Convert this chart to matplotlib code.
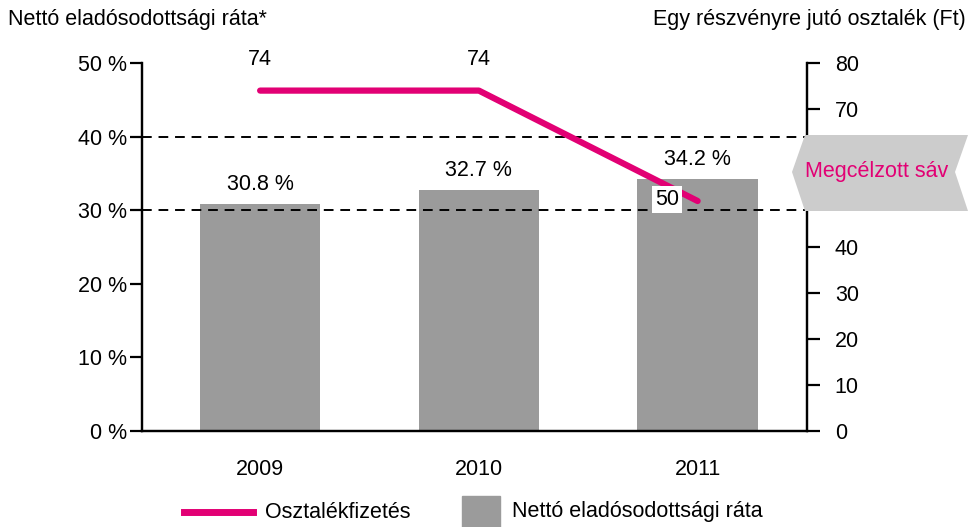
import numpy as np
import matplotlib.pyplot as plt
from matplotlib.patches import Polygon, Rectangle
from matplotlib.lines import Line2D

# data
years = ["2009", "2010", "2011"]
debt_ratio = [30.8, 32.7, 34.2]
dividend = [74, 74, 50]
target_band = [30, 40]

magenta = "#e20074"
bar_gray = "#9b9b9b"

plt.rcParams["font.family"] = ["Liberation Sans", "DejaVu Sans"]
fs = 15.5

fig = plt.figure(figsize=(9.74, 5.27), dpi=100)
ax = fig.add_axes([142 / 974, 96 / 527, 665 / 974, 368 / 527])
ax2 = ax.twinx()

x = np.arange(len(years))
ax.bar(x, debt_ratio, width=0.55, color=bar_gray, zorder=2)
for xi, v in zip(x, debt_ratio):
    ax.text(xi, v + 1.2, f"{v:.1f} %", ha="center", va="bottom", fontsize=fs)

for yv in target_band:
    ax.axhline(yv, color="black", lw=1.4, ls=(0, (5, 3.5)), zorder=3)

ax.set_xlim(-0.54, 2.5)
ax.set_ylim(0, 50)
ax.set_yticks(range(0, 51, 10))
ax.set_yticklabels([f"{t} %" for t in range(0, 51, 10)])
ax.set_xticks(x)
ax.set_xticklabels(years)
ax.tick_params(axis="x", length=0, pad=20, labelsize=fs)
ax.tick_params(axis="y", length=9, width=1.6, direction="out", pad=2, labelsize=fs)

ax2.plot(x, dividend, color=magenta, lw=4.5, solid_capstyle="round", zorder=4)
ax2.set_ylim(0, 80)
ax2.set_yticks(range(0, 81, 10))
ax2.tick_params(axis="y", length=9, width=1.6, direction="out", pad=11, labelsize=fs)
for xi, v in zip(x[:2], dividend[:2]):
    ax2.text(xi, 78.5, str(v), ha="center", va="bottom", fontsize=fs)
ax2.text(x[2] - 0.14, dividend[2] + 0.3, str(dividend[2]), ha="center", va="center",
         fontsize=fs, bbox=dict(facecolor="white", edgecolor="none", pad=2), zorder=5)

for a in (ax, ax2):
    a.spines["top"].set_visible(False)
    for s in ("left", "right", "bottom"):
        a.spines[s].set_linewidth(1.6)

# target band arrow label (covers the right axis around 50)
pts = [(792, 172), (805, 135), (968, 135), (955, 172), (968, 211), (805, 211)]
fig.add_artist(Polygon([(px / 974, 1 - py / 527) for px, py in pts], closed=True,
                       transform=fig.transFigure, facecolor="#cccccc", edgecolor="none",
                       zorder=5))
fig.text(877 / 974, 1 - 172 / 527, "Megcélzott sáv", color=magenta, ha="center",
         va="center", fontsize=fs, zorder=6)

fig.text(8 / 974, 1 - 19 / 527, "Nettó eladósodottsági ráta*", ha="left", va="center", fontsize=fs)
fig.text(966 / 974, 1 - 19 / 527, "Egy részvényre jutó osztalék (Ft)", ha="right",
         va="center", fontsize=fs)

# legend
fig.add_artist(Line2D([184 / 974, 253 / 974], [1 - 512 / 527] * 2, color=magenta, lw=5,
                      transform=fig.transFigure))
fig.text(265 / 974, 1 - 512 / 527, "Osztalékfizetés", ha="left", va="center", fontsize=fs)
fig.add_artist(Rectangle((462 / 974, 0), 38 / 974, 31 / 527, color=bar_gray,
                         transform=fig.transFigure))
fig.text(512 / 974, 1 - 512 / 527, "Nettó eladósodottsági ráta", ha="left", va="center",
         fontsize=fs)

fig.savefig("out.png", dpi=100)
